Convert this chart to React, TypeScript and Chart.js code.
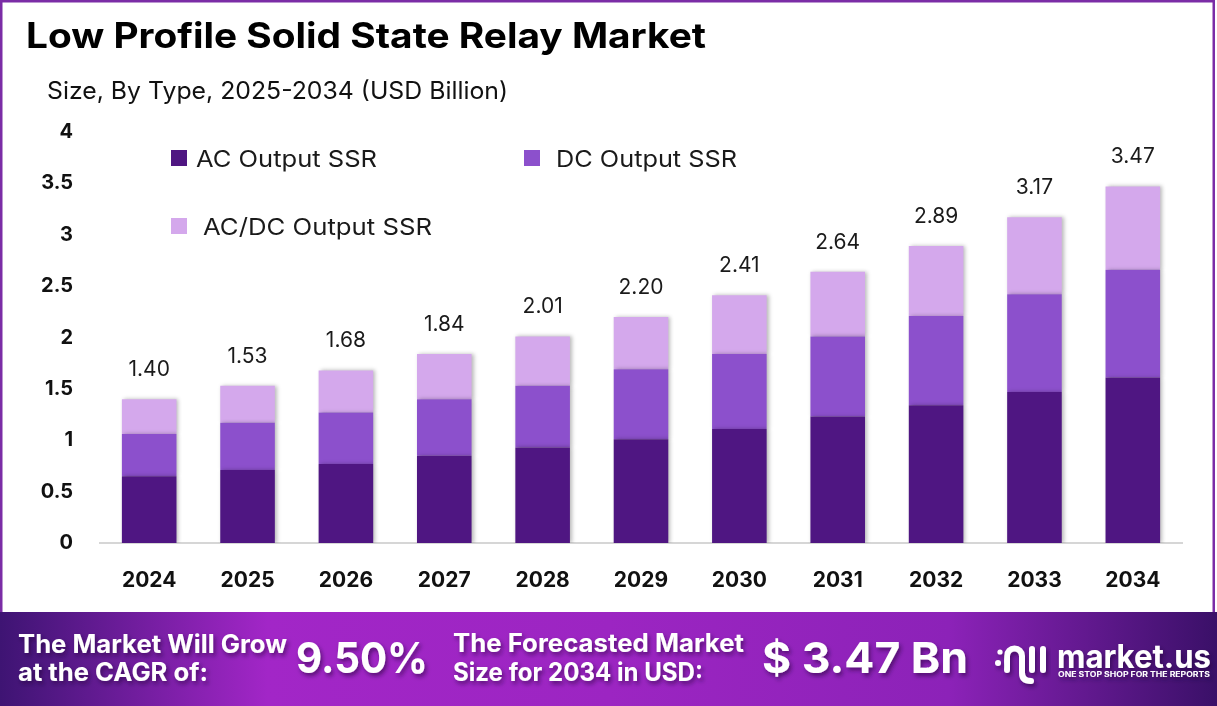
import React, { useEffect, useRef } from "react";
import { Chart, registerables } from "chart.js";

Chart.register(...registerables);

// ---------- data ----------
const categories = ["2024", "2025", "2026", "2027", "2028", "2029", "2030", "2031", "2032", "2033", "2034"];
const acOutput = [0.65, 0.71, 0.77, 0.85, 0.93, 1.01, 1.11, 1.23, 1.34, 1.47, 1.61];
const dcOutput = [0.41, 0.46, 0.5, 0.55, 0.6, 0.68, 0.73, 0.78, 0.87, 0.95, 1.05];
const acdcOutput = [0.34, 0.36, 0.41, 0.44, 0.48, 0.51, 0.57, 0.63, 0.68, 0.75, 0.81];
const seriesNames = ["AC Output SSR", "DC Output SSR", "AC/DC Output SSR"];
const seriesColors = ["#4f1682", "#8c50cc", "#d4a8ec"];
const yMin = 0;
const yMax = 4;
const yStep = 0.5;

const titleText = "Low Profile Solid State Relay Market";
const subtitleText = "Size, By Type, 2025-2034 (USD Billion)";
const cagrLine1 = "The Market Will Grow";
const cagrLine2 = "at the CAGR of:";
const cagrValue = "9.50%";
const forecastLine1 = "The Forecasted Market";
const forecastLine2 = "Size for 2034 in USD:";
const forecastValue = "$ 3.47 Bn";
const brandName = "market.us";
const brandTagline = "ONE STOP SHOP FOR THE REPORTS";

const FONT = "Inter, 'Noto Sans', 'DejaVu Sans', sans-serif";

const seriesData = [acOutput, dcOutput, acdcOutput];

const totalsPlugin = {
  id: "totalsAndShadow",
  beforeDatasetsDraw(chart: any) {
    const c = chart.ctx;
    c.save();
    c.shadowColor = "rgba(0,0,0,0.28)";
    c.shadowBlur = 4;
    c.shadowOffsetX = 2;
    c.shadowOffsetY = 0;
  },
  afterDatasetsDraw(chart: any) {
    const c = chart.ctx;
    c.restore();
    const n = chart.data.datasets.length;
    const lastMeta = chart.getDatasetMeta(n - 1);
    c.save();
    c.font = `400 21px ${FONT}`;
    c.fillStyle = "#1a1a1a";
    c.textAlign = "center";
    c.textBaseline = "alphabetic";
    lastMeta.data.forEach((el: any, i: number) => {
      let total = 0;
      chart.data.datasets.forEach((ds: any) => {
        total += ds.data[i];
      });
      total = Math.round(total * 100) / 100;
      c.fillText(total.toFixed(2), el.x, el.y - 23);
    });
    c.restore();
  },
};

function ChartCanvas() {
  const ref = useRef<HTMLCanvasElement | null>(null);
  useEffect(() => {
    if (!ref.current) return;
    const chart = new Chart(ref.current, {
      type: "bar",
      data: {
        labels: categories,
        datasets: seriesNames.map((name, i) => ({
          label: name,
          data: seriesData[i],
          backgroundColor: seriesColors[i],
          borderWidth: 0,
          categoryPercentage: 1,
          barPercentage: 0.555,
        })),
      },
      options: {
        responsive: false,
        animation: false,
        layout: { padding: { left: 0, right: 35, top: 132, bottom: 0 } },
        plugins: {
          legend: { display: false },
          tooltip: { enabled: false },
          title: { display: false },
        },
        scales: {
          x: {
            stacked: true,
            grid: { display: false, drawTicks: false },
            border: { display: true, color: "#d6d6d6", width: 2 },
            ticks: {
              color: "#111111",
              font: { family: FONT, size: 21, weight: "bold" },
              padding: 25,
              maxRotation: 0,
            },
            afterFit: (scale: any) => {
              scale.height = 69;
            },
          },
          y: {
            stacked: true,
            min: yMin,
            max: yMax,
            grid: { display: false, drawTicks: false },
            border: { display: false },
            ticks: {
              stepSize: yStep,
              color: "#111111",
              font: { family: FONT, size: 20, weight: "bold" },
              padding: 27,
              callback: (v: any) => String(Math.round(Number(v) * 10) / 10),
            },
            afterFit: (scale: any) => {
              scale.width = 100;
            },
          },
        },
      },
      plugins: [totalsPlugin],
    } as any);
    return () => chart.destroy();
  }, []);
  return (
    <canvas
      ref={ref}
      width={1217}
      height={612}
      style={{ position: "absolute", left: 0, top: 0, width: 1217, height: 612 }}
    />
  );
}

const legendLayout = [
  { sx: 171, sy: 150, tx: 196, ty: 167, tw: 181 },
  { sx: 524, sy: 150, tx: 556, ty: 167, tw: 181 },
  { sx: 171, sy: 218, tx: 203, ty: 235, tw: 229 },
];

function Overlay() {
  return (
    <svg
      width={1217}
      height={706}
      style={{ position: "absolute", left: 0, top: 0, pointerEvents: "none" }}
    >
      <defs>
        <linearGradient id="bannerGrad" x1="0" y1="0" x2="1" y2="0">
          <stop offset="0%" stopColor="#3e1473" />
          <stop offset="22%" stopColor="#a226c7" />
          <stop offset="50%" stopColor="#9c25c2" />
          <stop offset="78%" stopColor="#8c22b8" />
          <stop offset="100%" stopColor="#3a1068" />
        </linearGradient>
        <filter id="txtShadow" x="-10%" y="-30%" width="130%" height="180%">
          <feDropShadow dx="2" dy="3" stdDeviation="2" floodColor="#220636" floodOpacity="0.55" />
        </filter>
      </defs>
      {/* frame */}
      <rect x={1.25} y={1.25} width={1212.5} height={620} fill="none" stroke="#7b2ca6" strokeWidth={2.5} />

      {/* title */}
      <text x={26} y={48} fontFamily={FONT} fontWeight={700} fontSize={35} fill="#000" textLength={680} lengthAdjust="spacingAndGlyphs">
        {titleText}
      </text>
      <text x={47} y={99} fontFamily={FONT} fontWeight={400} fontSize={24} fill="#111" textLength={461} lengthAdjust="spacingAndGlyphs">
        {subtitleText}
      </text>

      {/* legend */}
      {seriesNames.map((name, i) => {
        const L = legendLayout[i];
        return (
          <g key={name}>
            <rect x={L.sx} y={L.sy} width={16} height={16} fill={seriesColors[i]} />
            <text x={L.tx} y={L.ty} fontFamily={FONT} fontSize={23} fill="#1a1a1a" textLength={L.tw} lengthAdjust="spacingAndGlyphs">
              {name}
            </text>
          </g>
        );
      })}

      {/* banner */}
      <rect x={0} y={612} width={1217} height={94} fill="url(#bannerGrad)" />
      <g filter="url(#txtShadow)" fill="#ffffff" fontFamily={FONT} fontWeight={700}>
        <text x={18} y={653} fontSize={25} textLength={269} lengthAdjust="spacingAndGlyphs">{cagrLine1}</text>
        <text x={18} y={681} fontSize={25} textLength={190} lengthAdjust="spacingAndGlyphs">{cagrLine2}</text>
        <text x={296} y={673} fontSize={43} textLength={132} lengthAdjust="spacingAndGlyphs">{cagrValue}</text>
        <text x={453} y={652} fontSize={25} textLength={291} lengthAdjust="spacingAndGlyphs">{forecastLine1}</text>
        <text x={453} y={681} fontSize={25} textLength={250} lengthAdjust="spacingAndGlyphs">{forecastLine2}</text>
        <text x={762} y={673} fontSize={43} textLength={206} lengthAdjust="spacingAndGlyphs">{forecastValue}</text>
        <text x={1057} y={668} fontSize={32} textLength={154} lengthAdjust="spacingAndGlyphs">{brandName}</text>
        <text x={1058} y={677} fontSize={7} textLength={152} lengthAdjust="spacingAndGlyphs">{brandTagline}</text>
      </g>
      {/* logo mark */}
      <g filter="url(#txtShadow)" stroke="#ffffff" strokeWidth={6} strokeLinecap="round" fill="none">
        <path d="M1007,670 L1007,656 A7.5,7.5 0 0 1 1022,656 L1022,673 Q1022,681 1031,681" />
        <line x1={1032} y1={649} x2={1032} y2={670} />
        <line x1={1043} y1={649} x2={1043} y2={670} />
      </g>
      <g fill="#ffffff" filter="url(#txtShadow)">
        <circle cx={998} cy={663} r={3} />
        <circle cx={1000} cy={652} r={2.6} />
      </g>
    </svg>
  );
}

export default function App() {
  return (
    <div
      style={{
        position: "absolute",
        left: 0,
        top: 0,
        width: 1217,
        height: 706,
        background: "#ffffff",
        overflow: "hidden",
      }}
    >
      <ChartCanvas />
      <Overlay />
    </div>
  );
}
